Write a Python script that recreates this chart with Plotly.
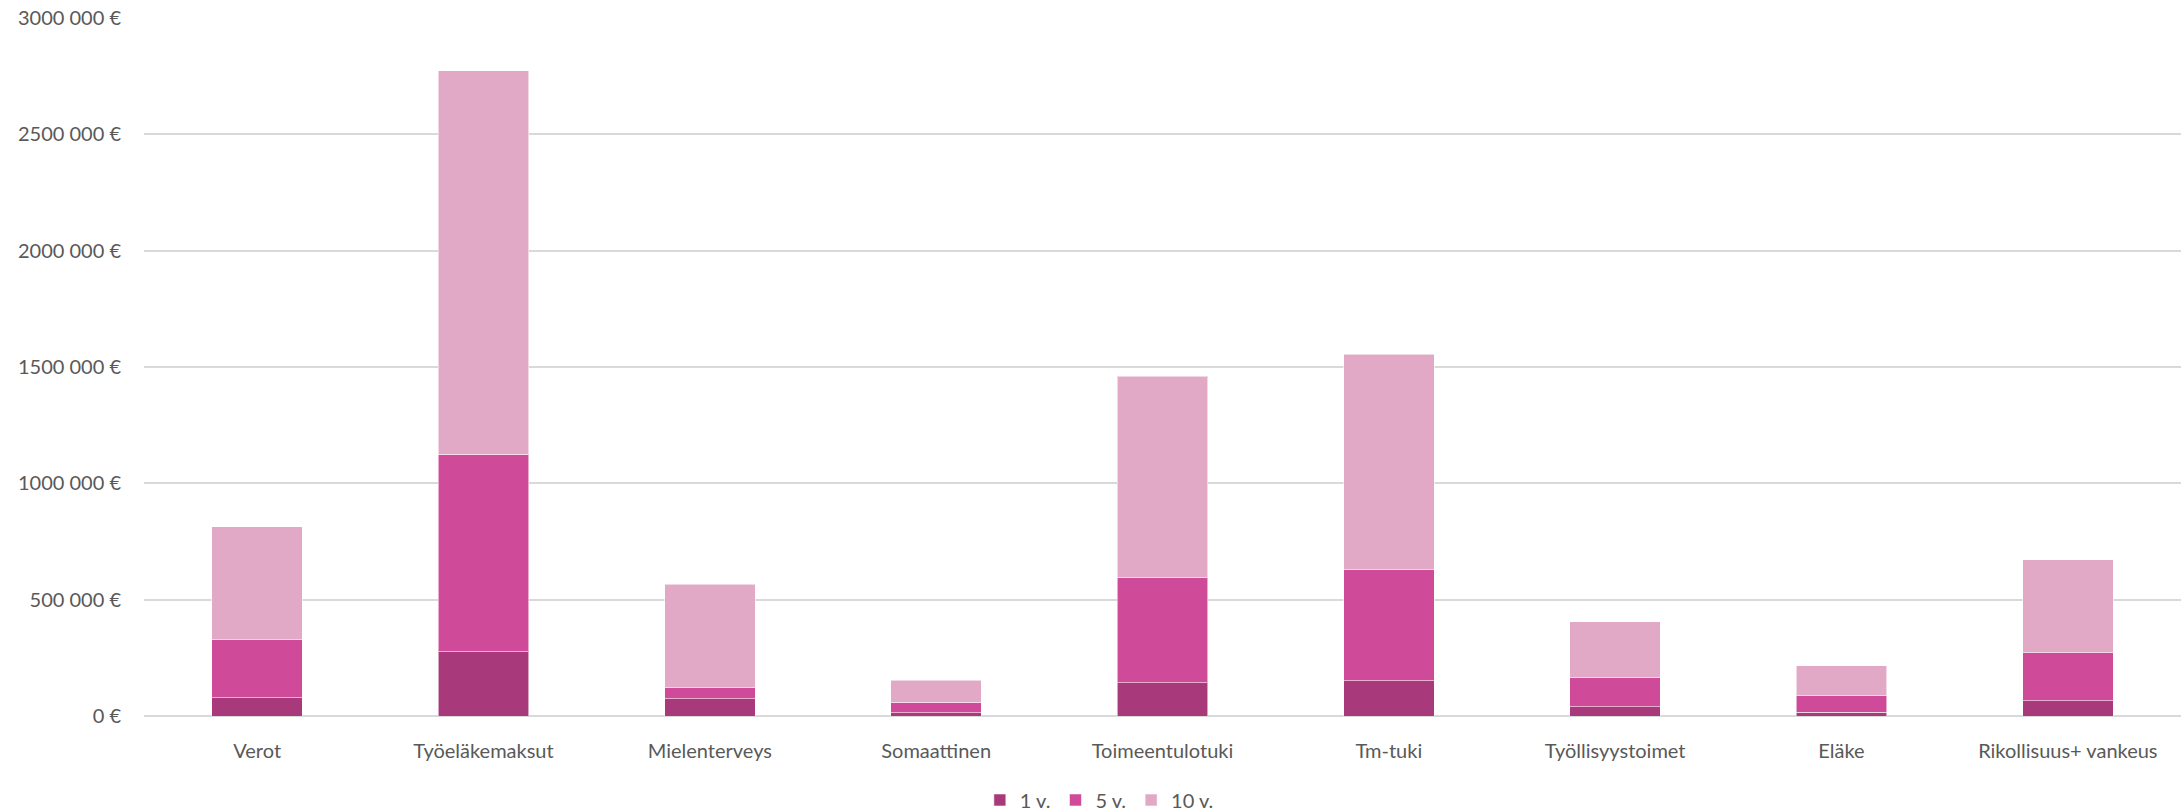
import plotly.graph_objects as go

categories = ["Verot", "Työeläkemaksut", "Mielenterveys", "Somaattinen", "Toimeentulotuki",
              "Tm-tuki", "Työllisyystoimet", "Eläke", "Rikollisuus+ vankeus"]
v1 = [79000, 277000, 75000, 14000, 144000, 152000, 40000, 17000, 66000]
v5 = [249000, 849000, 46000, 46000, 450000, 477000, 124000, 69000, 206000]
v10 = [485000, 1648000, 446000, 94000, 866000, 926000, 241000, 131000, 400000]
series_names = ["1 v.", "5 v.", "10 v."]
colors = ["#A8397B", "#CF4A98", "#E1A9C6"]

tick_vals = [0, 500000, 1000000, 1500000, 2000000, 2500000, 3000000]
tick_text = ["0 €", "500 000 €", "1000 000 €", "1500 000 €", "2000 000 €", "2500 000 €", "3000 000 €"]

fig = go.Figure()
for name, vals, col in zip(series_names, [v1, v5, v10], colors):
    fig.add_trace(go.Bar(
        x=categories, y=vals, name=name,
        marker=dict(color=col, line=dict(color="rgba(255,255,255,0.55)", width=1)),
    ))

font_family = "Lato, 'Open Sans', sans-serif"
fig.update_layout(
    barmode="stack",
    bargap=0.6,
    width=2182, height=811,
    margin=dict(l=144, r=1, t=18, b=95, autoexpand=False),
    plot_bgcolor="white", paper_bgcolor="white",
    font=dict(family=font_family, size=20, color="#595959"),
    showlegend=True,
    legend=dict(orientation="h", x=0.469, xanchor="center",
                yref="container", y=0.0136, yanchor="middle",
                bgcolor="rgba(0,0,0,0)",
                font=dict(size=20, color="#595959"), traceorder="normal",
                itemwidth=30),
)
fig.update_yaxes(range=[0, 3000000], tickvals=tick_vals, ticktext=tick_text,
                 showgrid=True, gridcolor="#D9D9D9", gridwidth=1.5,
                 zeroline=True, zerolinecolor="#D9D9D9", zerolinewidth=1.5,
                 showline=False, ticks="", ticklabelstandoff=22, automargin=False,
                 tickfont=dict(size=20, color="#595959"))
fig.update_xaxes(showgrid=False, showline=False, ticks="outside", ticklen=17,
                 tickcolor="rgba(0,0,0,0)", automargin=False,
                 tickfont=dict(size=20, color="#595959"))

page_fix = (
    "var h=document.documentElement, b=document.body;"
    "h.style.margin='0'; b.style.margin='0'; b.style.padding='0';"
    "b.style.lineHeight='0'; b.style.fontSize='0';"
    "h.style.height='811px'; b.style.height='811px';"
    "h.style.overflow='hidden'; b.style.overflow='hidden';"
)
fig.write_html("out.html", config={"displayModeBar": False}, post_script=page_fix)
